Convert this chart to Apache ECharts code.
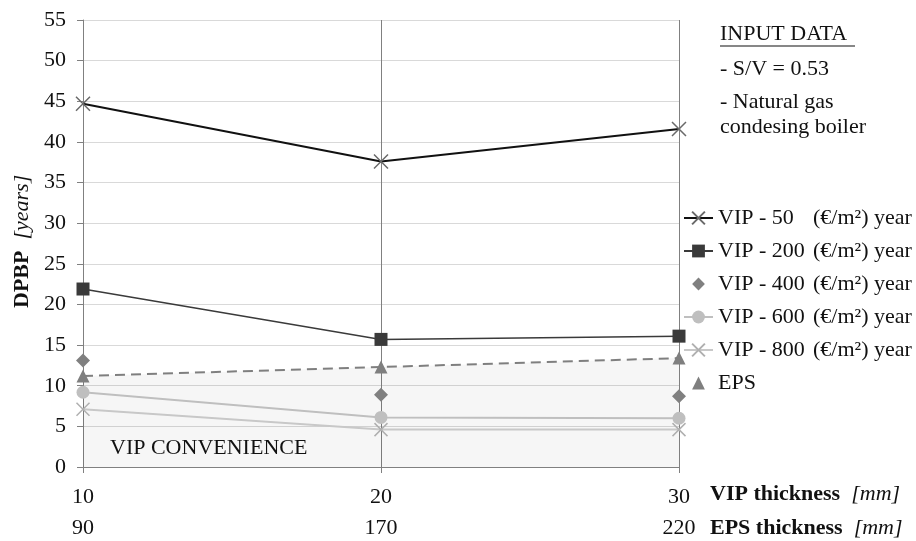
<!DOCTYPE html>
<html><head><meta charset="utf-8">
<script src="https://cdn.jsdelivr.net/npm/echarts@6/dist/echarts.min.js"></script>
<style>html,body{margin:0;padding:0;background:#fff}#c{width:916px;height:541px}</style>
</head><body><div id="c"></div>
<script>
var vipThickness = ['10', '20', '30'];
var epsThickness = ['90', '170', '220'];
var yTicks = [0, 5, 10, 15, 20, 25, 30, 35, 40, 45, 50, 55];
var vip50  = [44.7, 37.6, 41.6];
var vip200 = [21.9, 15.7, 16.1];
var vip400 = [13.1, 8.9, 8.7];
var vip600 = [9.2, 6.1, 6.0];
var vip800 = [7.1, 4.6, 4.6];
var eps    = [11.2, 12.3, 13.4];
var seriesNames = ['VIP - 50', 'VIP - 200', 'VIP - 400', 'VIP - 600', 'VIP - 800', 'EPS'];

var FONT = '"Liberation Serif", "Times New Roman", serif';
var FS = 22;
var cross = 'path://M0,0L10,10M10,0L0,10';
var chart = echarts.init(document.getElementById('c'));
chart.setOption({
  animation: false,
  textStyle: {fontFamily: FONT},
  grid: {left: 83, right: 237, top: 20, bottom: 74},
  xAxis: [{
    type: 'category', data: vipThickness, boundaryGap: false, position: 'bottom',
    axisLine: {lineStyle: {color: '#808080', width: 1}},
    axisTick: {show: true, length: 6, lineStyle: {color: '#808080'}},
    axisLabel: {color: '#111', fontSize: FS, fontFamily: FONT, margin: 19},
    splitLine: {show: true, lineStyle: {color: '#808080', width: 1}}
  }, {
    type: 'category', data: epsThickness, boundaryGap: false, position: 'bottom', offset: 31,
    axisLine: {show: false}, axisTick: {show: false},
    axisLabel: {color: '#111', fontSize: FS, fontFamily: FONT, margin: 19},
    splitLine: {show: false}
  }],
  yAxis: {
    type: 'value', min: yTicks[0], max: yTicks[yTicks.length - 1], interval: yTicks[1] - yTicks[0],
    axisLine: {show: true, lineStyle: {color: '#808080'}},
    axisTick: {show: true, length: 6, lineStyle: {color: '#808080'}},
    axisLabel: {color: '#111', fontSize: FS, fontFamily: FONT, margin: 17},
    splitLine: {lineStyle: {color: '#d9d9d9', width: 1}}
  },
  legend: {
    orient: 'vertical', left: 678, top: 202, itemWidth: 29, itemHeight: 16, itemGap: 11,
    data: [
      {name: seriesNames[0]}, {name: seriesNames[1]}, {name: seriesNames[2]},
      {name: seriesNames[3]}, {name: seriesNames[4]}, {name: seriesNames[5], lineStyle: {opacity: 0, width: 0}}
    ],
    formatter: function (n) { return n === 'EPS' ? '{a|EPS}' : '{a|' + n + '}{b|(€/m²) year}'; },
    textStyle: {
      fontFamily: FONT, fontSize: FS, color: '#111',
      rich: {a: {fontFamily: FONT, fontSize: FS, color: '#111', width: 95, lineHeight: 25},
             b: {fontFamily: FONT, fontSize: FS, color: '#111', lineHeight: 25}}
    }
  },
  series: [
    {name: seriesNames[5], type: 'line', data: eps, symbol: 'triangle', symbolSize: 13, z: 1,
     lineStyle: {color: '#7f7f7f', width: 2, type: [10, 6]},
     itemStyle: {color: '#7f7f7f'},
     areaStyle: {color: 'rgba(0,0,0,0.05)', origin: 'start'}},
    {name: seriesNames[0], type: 'line', data: vip50, symbol: cross, symbolSize: 14, z: 5,
     lineStyle: {color: '#111', width: 2},
     itemStyle: {color: '#111', borderColor: '#6a6a6a', borderWidth: 1.5}},
    {name: seriesNames[1], type: 'line', data: vip200, symbol: 'rect', symbolSize: 13, z: 5,
     lineStyle: {color: '#3a3a3a', width: 1.5},
     itemStyle: {color: '#3a3a3a'}},
    {name: seriesNames[2], type: 'line', data: vip400, symbol: 'diamond', symbolSize: 14, z: 5,
     lineStyle: {width: 0, opacity: 0},
     itemStyle: {color: '#808080'}},
    {name: seriesNames[3], type: 'line', data: vip600, symbol: 'circle', symbolSize: 13, z: 4,
     lineStyle: {color: '#bfbfbf', width: 2},
     itemStyle: {color: '#bfbfbf'}},
    {name: seriesNames[4], type: 'line', data: vip800, symbol: cross, symbolSize: 13, z: 4,
     lineStyle: {color: '#c8c8c8', width: 2},
     itemStyle: {color: '#c8c8c8', borderColor: '#b0b0b0', borderWidth: 1.5}}
  ],
  graphic: [
    {type: 'text', left: 720, top: 23, style: {text: 'INPUT DATA', font: FS + 'px ' + FONT, fill: '#111'}},
    {type: 'line', shape: {x1: 720, y1: 46, x2: 855, y2: 46}, style: {stroke: '#111', lineWidth: 1.2}},
    {type: 'text', left: 720, top: 58, style: {text: '- S/V = 0.53', font: FS + 'px ' + FONT, fill: '#111'}},
    {type: 'text', left: 720, top: 91, style: {text: '- Natural gas', font: FS + 'px ' + FONT, fill: '#111'}},
    {type: 'text', left: 720, top: 116, style: {text: 'condesing boiler', font: FS + 'px ' + FONT, fill: '#111'}},
    {type: 'text', left: 110, top: 437, z: 10, style: {text: 'VIP CONVENIENCE', font: FS + 'px ' + FONT, fill: '#111'}},
    {type: 'text', left: 710, top: 483, style: {rich: {b: {font: 'bold ' + FS + 'px ' + FONT, fill: '#111'}, i: {font: 'italic ' + FS + 'px ' + FONT, fill: '#111'}},
      text: '{b|VIP thickness}{i|  [mm]}'}},
    {type: 'text', left: 710, top: 517, style: {rich: {b: {font: 'bold ' + FS + 'px ' + FONT, fill: '#111'}, i: {font: 'italic ' + FS + 'px ' + FONT, fill: '#111'}},
      text: '{b|EPS thickness}{i|  [mm]}'}},
    {type: 'text', x: 11, y: 308, rotation: Math.PI / 2, style: {rich: {b: {font: 'bold ' + FS + 'px ' + FONT, fill: '#111'}, i: {font: 'italic ' + FS + 'px ' + FONT, fill: '#111'}},
      text: '{b|DPBP}{i|  [years]}'}}
  ]
});
</script></body></html>
